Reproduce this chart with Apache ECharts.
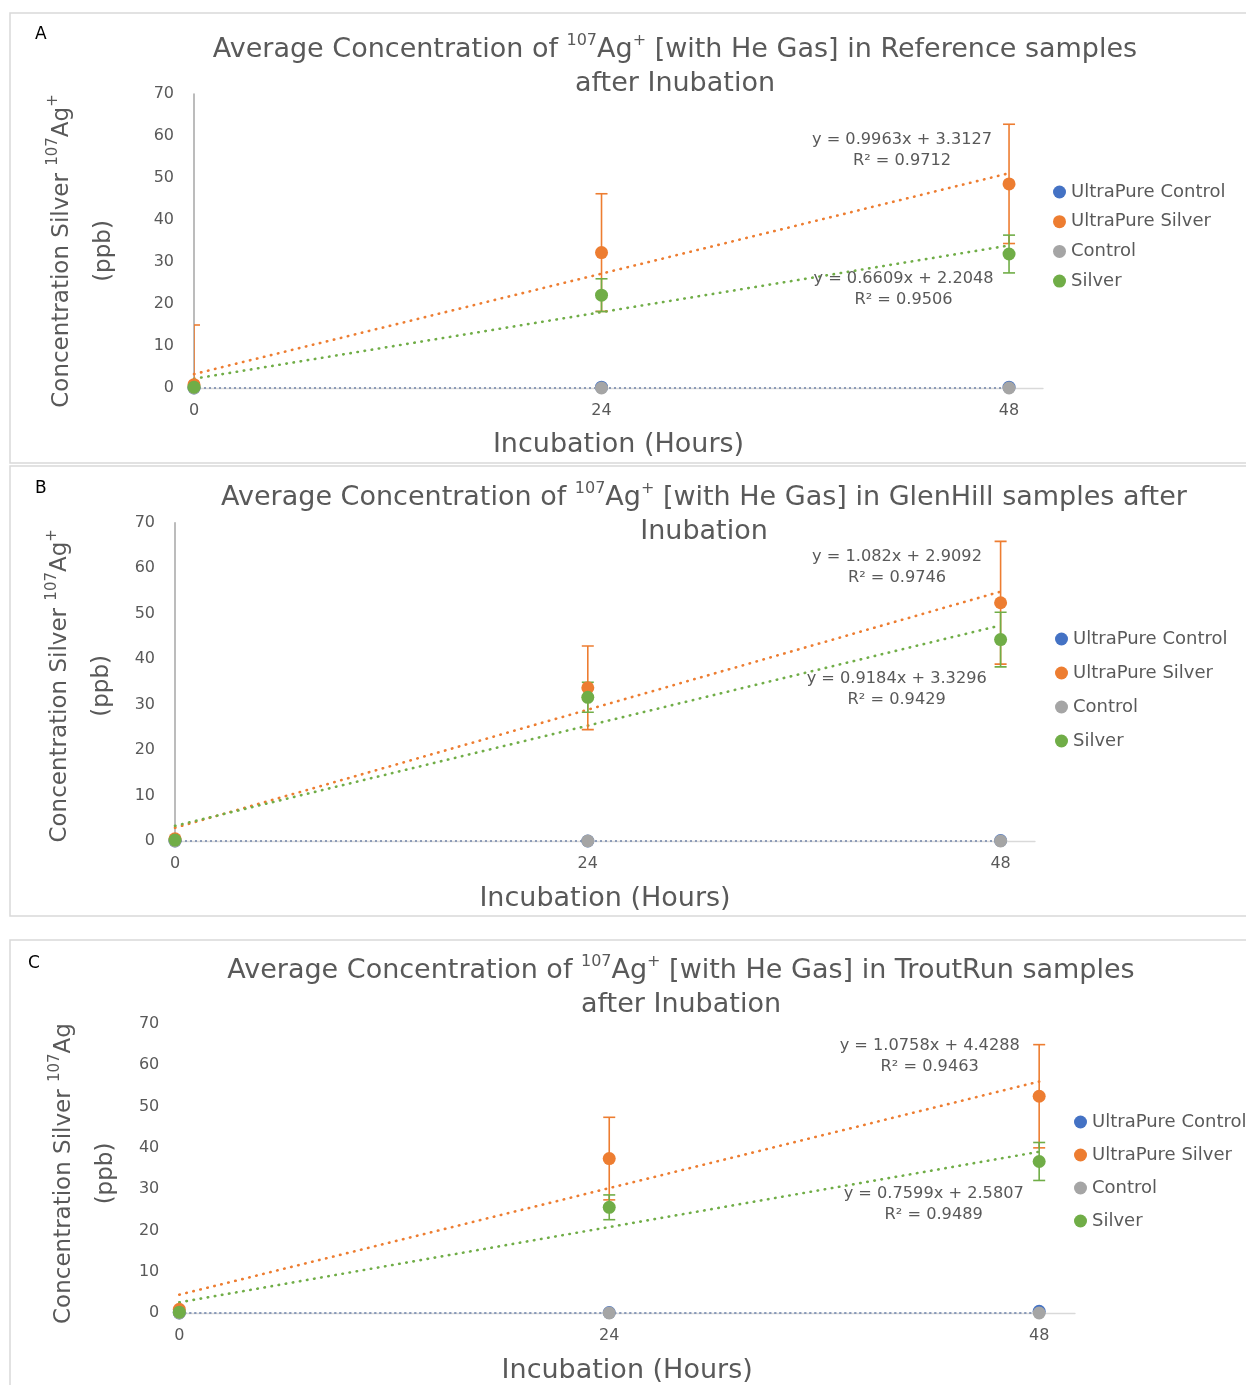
<!DOCTYPE html>
<html>
<head>
<meta charset="utf-8">
<script src="https://cdn.jsdelivr.net/npm/echarts@6/dist/echarts.min.js"></script>
<style>
  html, body { margin: 0; padding: 0; background: #ffffff; }
  #chart { width: 1246px; height: 1385px; }
</style>
</head>
<body>
<div id="chart"></div>
<script>
// ---------------- DATA ----------------
const hours = [0, 24, 48];
const xTickValues = [0, 24, 48];
const yTickMax = 70;
const yTickStep = 10;
const seriesNames = ['UltraPure Control', 'UltraPure Silver', 'Control', 'Silver'];
const xAxisTitle = 'Incubation (Hours)';

// Panel A - Reference samples
const refUltraPureControl = [0, 0.2, 0.2];
const refUltraPureSilver = [0.8, 32.25, 48.6];
const refControl = [0, 0, 0];
const refSilver = [0.2, 22.1, 31.9];
const refUltraPureControlErr = [0, 0, 0];
const refUltraPureSilverErr = [14.2, 14, 14.2];
const refControlErr = [0, 0, 0];
const refSilverErr = [0, 3.9, 4.5];
const refTrendSlope = [0, 0.9963, 0, 0.6609];
const refTrendIntercept = [0, 3.3127, 0, 2.2048];
const refR2 = [null, 0.9712, null, 0.9506];

// Panel B - GlenHill samples
const glenUltraPureControl = [0, 0, 0.1];
const glenUltraPureSilver = [0.5, 33.7, 52.4];
const glenControl = [0, 0, 0];
const glenSilver = [0.2, 31.6, 44.3];
const glenUltraPureControlErr = [0, 0, 0];
const glenUltraPureSilverErr = [0, 9.2, 13.5];
const glenControlErr = [0, 0, 0];
const glenSilverErr = [0, 3.3, 6.0];
const glenTrendSlope = [0, 1.082, 0, 0.9184];
const glenTrendIntercept = [0, 2.9092, 0, 3.3296];
const glenR2 = [null, 0.9746, null, 0.9429];

// Panel C - TroutRun samples
const troutUltraPureControl = [0, 0.1, 0.4];
const troutUltraPureSilver = [0.9, 37.4, 52.5];
const troutControl = [0, 0, 0];
const troutSilver = [0.2, 25.6, 36.7];
const troutUltraPureControlErr = [0, 0, 0];
const troutUltraPureSilverErr = [0, 10, 12.5];
const troutControlErr = [0, 0, 0];
const troutSilverErr = [0, 3.0, 4.6];
const troutTrendSlope = [0, 1.0758, 0, 0.7599];
const troutTrendIntercept = [0, 4.4288, 0, 2.5807];
const troutR2 = [null, 0.9463, null, 0.9489];

const panelLetters = ['A', 'B', 'C'];
const titles = [
  '{t|Average Concentration of }{s|107}{t|Ag}{s|+}{t| [with He Gas] in Reference samples}\n{t|after Inubation}',
  '{t|Average Concentration of }{s|107}{t|Ag}{s|+}{t| [with He Gas] in GlenHill samples after}\n{t|Inubation}',
  '{t|Average Concentration of }{s|107}{t|Ag}{s|+}{t| [with He Gas] in TroutRun samples}\n{t|after Inubation}'
];
const yAxisTitles = [
  '{m|Concentration Silver }{s|107}{m|Ag}{s|+}\n{m|(ppb)}',
  '{m|Concentration Silver }{s|107}{m|Ag}{s|+}\n{m|(ppb)}',
  '{m|Concentration Silver }{s|107}{m|Ag}\n{m|(ppb)}'
];

// ---------------- STYLE / LAYOUT ----------------
const FONT = 'DejaVu Sans';
const TXT = '#595959';
const colors = ['#4472C4', '#ED7D31', '#A5A5A5', '#70AD47'];

const panelData = [
  { values: [refUltraPureControl, refUltraPureSilver, refControl, refSilver],
    errors: [refUltraPureControlErr, refUltraPureSilverErr, refControlErr, refSilverErr],
    slope: refTrendSlope, intercept: refTrendIntercept, r2: refR2 },
  { values: [glenUltraPureControl, glenUltraPureSilver, glenControl, glenSilver],
    errors: [glenUltraPureControlErr, glenUltraPureSilverErr, glenControlErr, glenSilverErr],
    slope: glenTrendSlope, intercept: glenTrendIntercept, r2: glenR2 },
  { values: [troutUltraPureControl, troutUltraPureSilver, troutControl, troutSilver],
    errors: [troutUltraPureControlErr, troutUltraPureSilverErr, troutControlErr, troutSilverErr],
    slope: troutTrendSlope, intercept: troutTrendIntercept, r2: troutR2 }
];

const layouts = [
  { frame: [10, 13, 1240, 450], letter: [35, 35], title: [675, 67],
    grid: { left: 194, top: 94, width: 849, height: 294 }, yLine: true, yNameGap: 69, yNamePad: [0, 20, 0, 0],
    xNameGap: 43, legend: { left: 1053, top: 182, itemGap: 9.7 },
    eq: [[902, 150.5], [903.5, 289.5]] },
  { frame: [10, 466, 1240, 450], letter: [35, 489], title: [704, 515],
    grid: { left: 175, top: 522.7, width: 860, height: 318.3 }, yLine: true, yNameGap: 51.5, yNamePad: [0, 8, 0, 0],
    xNameGap: 44, legend: { left: 1055, top: 629, itemGap: 14 },
    eq: [[897, 567.7], [896.7, 689]] },
  { frame: [10, 940, 1240, 460], letter: [28, 964], title: [681, 988],
    grid: { left: 179.3, top: 1024, width: 895.7, height: 292.7 }, yLine: false, yNameGap: 52.6, yNamePad: [0, 10, 0, 0],
    xNameGap: 44, legend: { left: 1074, top: 1112, itemGap: 13 },
    eq: [[929.7, 1055.8], [933.7, 1203.8]] }
];

function errorBarRenderer(color) {
  return function (params, api) {
    const x = api.value(0), y = api.value(1), e = api.value(2);
    const hi = api.coord([x, y + e]);
    const lo = api.coord([x, y - e]);
    const w = 6;
    const st = { stroke: color, lineWidth: 1.6 };
    return {
      type: 'group',
      children: [
        { type: 'line', shape: { x1: hi[0], y1: hi[1], x2: lo[0], y2: lo[1] }, style: st },
        { type: 'line', shape: { x1: hi[0] - w, y1: hi[1], x2: hi[0] + w, y2: hi[1] }, style: st },
        { type: 'line', shape: { x1: lo[0] - w, y1: lo[1], x2: lo[0] + w, y2: lo[1] }, style: st }
      ]
    };
  };
}

function fmt(v) { return String(v); }

const grids = [], xAxes = [], yAxes = [], series = [], legends = [], graphics = [];

panelData.forEach(function (pd, p) {
  const L = layouts[p];
  grids.push(Object.assign({ containLabel: false }, L.grid));

  xAxes.push({
    gridIndex: p, type: 'value', min: 0, max: 50,
    name: xAxisTitle, nameLocation: 'middle', nameGap: L.xNameGap,
    nameTextStyle: { fontFamily: FONT, fontSize: 27, color: TXT },
    axisLine: { show: true, lineStyle: { color: '#D9D9D9', width: 1.3 } },
    axisTick: { show: false },
    splitLine: { show: false },
    axisLabel: { customValues: xTickValues, fontFamily: FONT, fontSize: 16, color: TXT, margin: 15 }
  });

  yAxes.push({
    gridIndex: p, type: 'value', min: 0, max: yTickMax, interval: yTickStep,
    name: yAxisTitles[p], nameLocation: 'middle', nameRotate: 90, nameGap: L.yNameGap,
    nameTextStyle: {
      padding: L.yNamePad,
      rich: {
        m: { fontFamily: FONT, fontSize: 23, color: TXT, lineHeight: 42, align: 'center' },
        s: { fontFamily: FONT, fontSize: 15, color: TXT, verticalAlign: 'top', align: 'center', padding: [5, 0, 0, 0] }
      }
    },
    axisLine: { show: L.yLine, lineStyle: { color: '#A6A6A6', width: 1.5 } },
    axisTick: { show: false },
    splitLine: { show: false },
    axisLabel: { fontFamily: FONT, fontSize: 16, color: TXT, margin: 20 }
  });

  // trendlines
  pd.slope.forEach(function (m, k) {
    const b = pd.intercept[k];
    const x0 = hours[0], x1 = hours[hours.length - 1];
    const isZero = (m === 0 && b === 0);
    series.push({
      type: 'line', name: 'Linear (' + seriesNames[k] + ')',
      xAxisIndex: p, yAxisIndex: p, z: 1, silent: true, clip: false,
      showSymbol: false, symbol: 'none',
      data: [[x0, b + m * x0], [x1, b + m * x1]],
      lineStyle: isZero
        ? { color: colors[k], width: 1.8, type: [2, 3], opacity: k === 2 ? 0.55 : 0.75 }
        : { color: colors[k], width: 2.6, type: [0.5, 6.7], cap: 'round' }
    });
  });

  // error bars + markers
  pd.values.forEach(function (vals, k) {
    const errs = pd.errors[k];
    const ebData = [];
    hours.forEach(function (h, j) { if (errs[j] > 0) ebData.push([h, vals[j], errs[j]]); });
    if (ebData.length) {
      series.push({
        type: 'custom', name: seriesNames[k] + ' error', xAxisIndex: p, yAxisIndex: p,
        z: 2, clip: true, silent: true,
        encode: { x: 0, y: 1 },
        renderItem: errorBarRenderer(colors[k]),
        data: ebData
      });
    }
    series.push({
      type: 'scatter', name: seriesNames[k], xAxisIndex: p, yAxisIndex: p,
      z: 3, clip: false, symbol: 'circle', symbolSize: 13,
      itemStyle: { color: colors[k], opacity: 1 },
      data: hours.map(function (h, j) { return [h, vals[j]]; })
    });
  });

  legends.push({
    orient: 'vertical', left: L.legend.left, top: L.legend.top, itemGap: L.legend.itemGap,
    itemWidth: 13, itemHeight: 13, icon: 'circle', padding: 0,
    data: seriesNames,
    textStyle: { fontFamily: FONT, fontSize: 18, color: TXT, lineHeight: 20 }
  });

  // frame
  graphics.push({
    type: 'rect', silent: true, z: -10,
    shape: { x: L.frame[0], y: L.frame[1], width: L.frame[2], height: L.frame[3] },
    style: { fill: 'none', stroke: '#D9D9D9', lineWidth: 1.5 }
  });
  // panel letter
  graphics.push({
    type: 'text', x: L.letter[0], y: L.letter[1],
    style: { text: panelLetters[p], fontFamily: FONT, fontSize: 17, fill: '#000000', verticalAlign: 'middle', align: 'left' }
  });
  // title
  graphics.push({
    type: 'text', x: L.title[0], y: L.title[1],
    style: {
      text: titles[p], align: 'center', verticalAlign: 'middle',
      rich: {
        t: { fontFamily: FONT, fontSize: 27, fill: TXT, lineHeight: 34, align: 'center' },
        s: { fontFamily: FONT, fontSize: 16, fill: TXT, lineHeight: 20, verticalAlign: 'top', align: 'center' }
      }
    }
  });
  // trendline equations
  [1, 3].forEach(function (k, idx) {
    const eqText = 'y = ' + fmt(pd.slope[k]) + 'x + ' + fmt(pd.intercept[k]) + '\nR\u00B2 = ' + fmt(pd.r2[k]);
    graphics.push({
      type: 'text', x: L.eq[idx][0], y: L.eq[idx][1], z: 5,
      style: { text: eqText, fontFamily: FONT, fontSize: 16.2, fill: TXT, lineHeight: 21, align: 'center', verticalAlign: 'middle' }
    });
  });
});

const chart = echarts.init(document.getElementById('chart'), null, { renderer: 'canvas' });
chart.setOption({
  backgroundColor: '#ffffff',
  animation: false,
  grid: grids,
  xAxis: xAxes,
  yAxis: yAxes,
  legend: legends,
  series: series,
  graphic: graphics
});
</script>
</body>
</html>
